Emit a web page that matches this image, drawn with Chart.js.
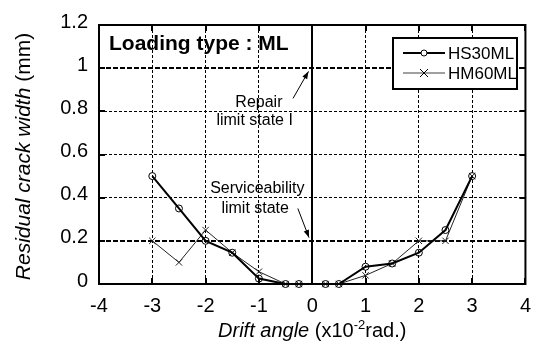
<!DOCTYPE html>
<html>
<head>
<meta charset="utf-8">
<script src="https://cdn.jsdelivr.net/npm/chart.js@4.4.0/dist/chart.umd.min.js"></script>
<style>
  html, body { margin: 0; padding: 0; background: #fff; }
  #chart { display: block; }
</style>
</head>
<body>
<canvas id="chart" width="541" height="342"></canvas>
<script>
const driftAngle = [-3, -2.5, -2, -1.5, -1, -0.5, -0.25, 0.25, 0.5, 1, 1.5, 2, 2.5, 3];
const hs30ml = [0.5, 0.35, 0.2, 0.145, 0.025, 0, 0, 0, 0, 0.08, 0.095, 0.145, 0.25, 0.5];
const hm60ml = [0.2, 0.1, 0.25, 0.145, 0.057, 0, 0, 0, 0, 0.04, 0.095, 0.2, 0.2, 0.5];
const xTickValues = [-4, -3, -2, -1, 0, 1, 2, 3, 4];
const yTickValues = [0, 0.2, 0.4, 0.6, 0.8, 1, 1.2];
const limitStates = [1, 0.2];
const seriesNames = ['HS30ML', 'HM60ML'];

const FONT = '"Liberation Sans", Arial, sans-serif';

function toPoints(ys) {
    return driftAngle.map((x, i) => ({ x: x, y: ys[i] }));
}

// frame, zero line, limit-state lines (under the data)
const framePlugin = {
    id: 'frame',
    beforeDatasetsDraw(chart) {
        const { ctx, chartArea: a, scales: { x, y } } = chart;
        ctx.save();
        ctx.strokeStyle = '#000';

        // limit state lines
        ctx.lineWidth = 2;
        ctx.setLineDash([5, 2]);
        limitStates.forEach(v => {
            const py = Math.round(y.getPixelForValue(v));
            ctx.beginPath();
            ctx.moveTo(a.left, py);
            ctx.lineTo(a.right, py);
            ctx.stroke();
        });
        ctx.setLineDash([]);

        // x = 0 line
        const x0 = Math.round(x.getPixelForValue(0));
        ctx.beginPath();
        ctx.moveTo(x0, a.top);
        ctx.lineTo(x0, a.bottom);
        ctx.stroke();

        // inside tick marks
        xTickValues.forEach(v => {
            const px = Math.round(x.getPixelForValue(v));
            ctx.beginPath();
            ctx.moveTo(px, a.bottom); ctx.lineTo(px, a.bottom - 6);
            ctx.moveTo(px, a.top); ctx.lineTo(px, a.top + 6);
            ctx.stroke();
        });
        yTickValues.forEach(v => {
            const py = Math.round(y.getPixelForValue(v));
            ctx.beginPath();
            ctx.moveTo(a.left, py); ctx.lineTo(a.left + 6, py);
            ctx.moveTo(a.right, py); ctx.lineTo(a.right - 6, py);
            ctx.stroke();
        });

        ctx.strokeRect(a.left, a.top, a.right - a.left, a.bottom - a.top);
        ctx.restore();
    },
    afterDraw(chart) {
        const { ctx, chartArea: a, scales: { x, y } } = chart;
        ctx.save();
        ctx.fillStyle = '#000';
        ctx.strokeStyle = '#000';

        // panel label
        ctx.font = 'bold 21px ' + FONT;
        ctx.textAlign = 'left';
        ctx.textBaseline = 'alphabetic';
        ctx.fillText('Loading type : ML', a.left + 10, a.top + 25);

        // annotations
        ctx.font = '16px ' + FONT;
        ctx.textAlign = 'center';
        ctx.fillText('Repair', x.getPixelForValue(-1.0), y.getPixelForValue(0.82));
        ctx.fillText('limit state I', x.getPixelForValue(-1.08), y.getPixelForValue(0.735));
        ctx.fillText('Serviceability', x.getPixelForValue(-1.03), y.getPixelForValue(0.42));
        ctx.fillText('limit state', x.getPixelForValue(-1.07), y.getPixelForValue(0.33));

        function arrow(x1, y1, x2, y2) {
            const p1 = [x.getPixelForValue(x1), y.getPixelForValue(y1)];
            const p2 = [x.getPixelForValue(x2), y.getPixelForValue(y2)];
            ctx.lineWidth = 1;
            ctx.beginPath();
            ctx.moveTo(p1[0], p1[1]);
            ctx.lineTo(p2[0], p2[1]);
            ctx.stroke();
            const ang = Math.atan2(p2[1] - p1[1], p2[0] - p1[0]);
            ctx.beginPath();
            ctx.moveTo(p2[0], p2[1]);
            ctx.lineTo(p2[0] - 8 * Math.cos(ang - 0.35), p2[1] - 8 * Math.sin(ang - 0.35));
            ctx.lineTo(p2[0] - 8 * Math.cos(ang + 0.35), p2[1] - 8 * Math.sin(ang + 0.35));
            ctx.closePath();
            ctx.fill();
        }
        arrow(-0.36, 0.86, -0.07, 0.985);
        arrow(-0.27, 0.35, -0.06, 0.215);

        // legend box
        const lx = 393, ly = 38, lw = 124, lh = 51;
        ctx.fillStyle = '#fff';
        ctx.fillRect(lx, ly, lw, lh);
        ctx.lineWidth = 2;
        ctx.strokeRect(lx, ly, lw, lh);
        chart.data.datasets.forEach((ds, i) => {
            const cy = ly + 15 + i * 20;
            ctx.strokeStyle = i === 0 ? '#000' : '#808080';
            ctx.lineWidth = i === 0 ? 2 : 1.5;
            ctx.beginPath();
            ctx.moveTo(lx + 10, cy);
            ctx.lineTo(lx + 52, cy);
            ctx.stroke();
            ctx.lineWidth = 1;
            ctx.beginPath();
            if (i === 0) {
                ctx.fillStyle = '#fff';
                ctx.arc(lx + 31, cy, 3, 0, Math.PI * 2);
                ctx.fill();
                ctx.strokeStyle = '#000';
                ctx.stroke();
            } else {
                ctx.strokeStyle = '#000';
                ctx.moveTo(lx + 27, cy - 4); ctx.lineTo(lx + 35, cy + 4);
                ctx.moveTo(lx + 27, cy + 4); ctx.lineTo(lx + 35, cy - 4);
                ctx.stroke();
            }
            ctx.fillStyle = '#000';
            ctx.font = '17px ' + FONT;
            ctx.textAlign = 'left';
            ctx.textBaseline = 'middle';
            ctx.fillText(ds.label, lx + 55, cy + 1);
        });

        // axis titles
        ctx.fillStyle = '#000';
        ctx.textBaseline = 'alphabetic';
        ctx.textAlign = 'left';
        const it = 'italic 20px ' + FONT, nm = '20px ' + FONT, sup = '13px ' + FONT;
        ctx.font = it; const w1 = ctx.measureText('Drift angle ').width;
        ctx.font = nm; const w2 = ctx.measureText('(x10').width;
        ctx.font = sup; const w3 = ctx.measureText('-2').width;
        ctx.font = nm; const w4 = ctx.measureText('rad.)').width;
        let tx = (a.left + a.right) / 2 - (w1 + w2 + w3 + w4) / 2;
        const ty = 337;
        ctx.font = it; ctx.fillText('Drift angle ', tx, ty); tx += w1;
        ctx.font = nm; ctx.fillText('(x10', tx, ty); tx += w2;
        ctx.font = sup; ctx.fillText('-2', tx, ty - 8); tx += w3;
        ctx.font = nm; ctx.fillText('rad.)', tx, ty);

        ctx.translate(30, (a.top + a.bottom) / 2 + 2);
        ctx.rotate(-Math.PI / 2);
        const it2 = 'italic 21px ' + FONT, nm2 = '21px ' + FONT;
        ctx.font = it2; const v1 = ctx.measureText('Residual crack width ').width;
        ctx.font = nm2; const v2 = ctx.measureText('(mm)').width;
        let sx = -(v1 + v2) / 2;
        ctx.font = it2; ctx.fillText('Residual crack width ', sx, 0); sx += v1;
        ctx.font = nm2; ctx.fillText('(mm)', sx, 0);

        ctx.restore();
    }
};

new Chart(document.getElementById('chart'), {
    type: 'scatter',
    data: {
        datasets: [
            {
                label: seriesNames[0],
                data: toPoints(hs30ml),
                showLine: true,
                borderColor: '#000',
                borderWidth: 2,
                pointStyle: 'circle',
                pointRadius: 3.5,
                pointBorderWidth: 1,
                pointBorderColor: '#000',
                pointBackgroundColor: 'rgba(0,0,0,0)',
                clip: false
            },
            {
                label: seriesNames[1],
                data: toPoints(hm60ml),
                showLine: true,
                borderColor: '#222',
                borderWidth: 1,
                pointStyle: 'crossRot',
                pointRadius: 4.5,
                pointBorderWidth: 1,
                pointBorderColor: '#222',
                clip: false
            }
        ]
    },
    options: {
        responsive: false,
        animation: false,
        devicePixelRatio: 1,
        layout: { padding: { left: 0, right: 9, top: 25, bottom: 0 } },
        plugins: { legend: { display: false }, tooltip: { enabled: false } },
        scales: {
            x: {
                type: 'linear',
                min: -4,
                max: 4,
                afterBuildTicks: s => { s.ticks = xTickValues.map(v => ({ value: v })); },
                afterFit: s => { s.height = 58; },
                grid: {
                    drawTicks: false,
                    color: c => (c.tick && (c.tick.value === 0 || Math.abs(c.tick.value) === 4)) ? 'rgba(0,0,0,0)' : '#000',
                    lineWidth: 1
                },
                border: { display: false, dash: [3, 2] },
                ticks: {
                    color: '#000',
                    padding: 10,
                    font: { family: FONT, size: 20 },
                    callback: v => String(v),
                    maxRotation: 0
                }
            },
            y: {
                type: 'linear',
                min: 0,
                max: 1.2,
                afterBuildTicks: s => { s.ticks = yTickValues.map(v => ({ value: v })); },
                afterFit: s => { s.width = 99; },
                grid: {
                    drawTicks: false,
                    color: c => (c.tick && (c.tick.value === 0 || c.tick.value === 1.2 || limitStates.includes(c.tick.value))) ? 'rgba(0,0,0,0)' : '#000',
                    lineWidth: 1
                },
                border: { display: false, dash: [3, 2] },
                ticks: {
                    color: '#000',
                    padding: 11,
                    labelOffset: -3,
                    font: { family: FONT, size: 20 },
                    callback: v => String(v)
                }
            }
        }
    },
    plugins: [framePlugin]
});
</script>
</body>
</html>
